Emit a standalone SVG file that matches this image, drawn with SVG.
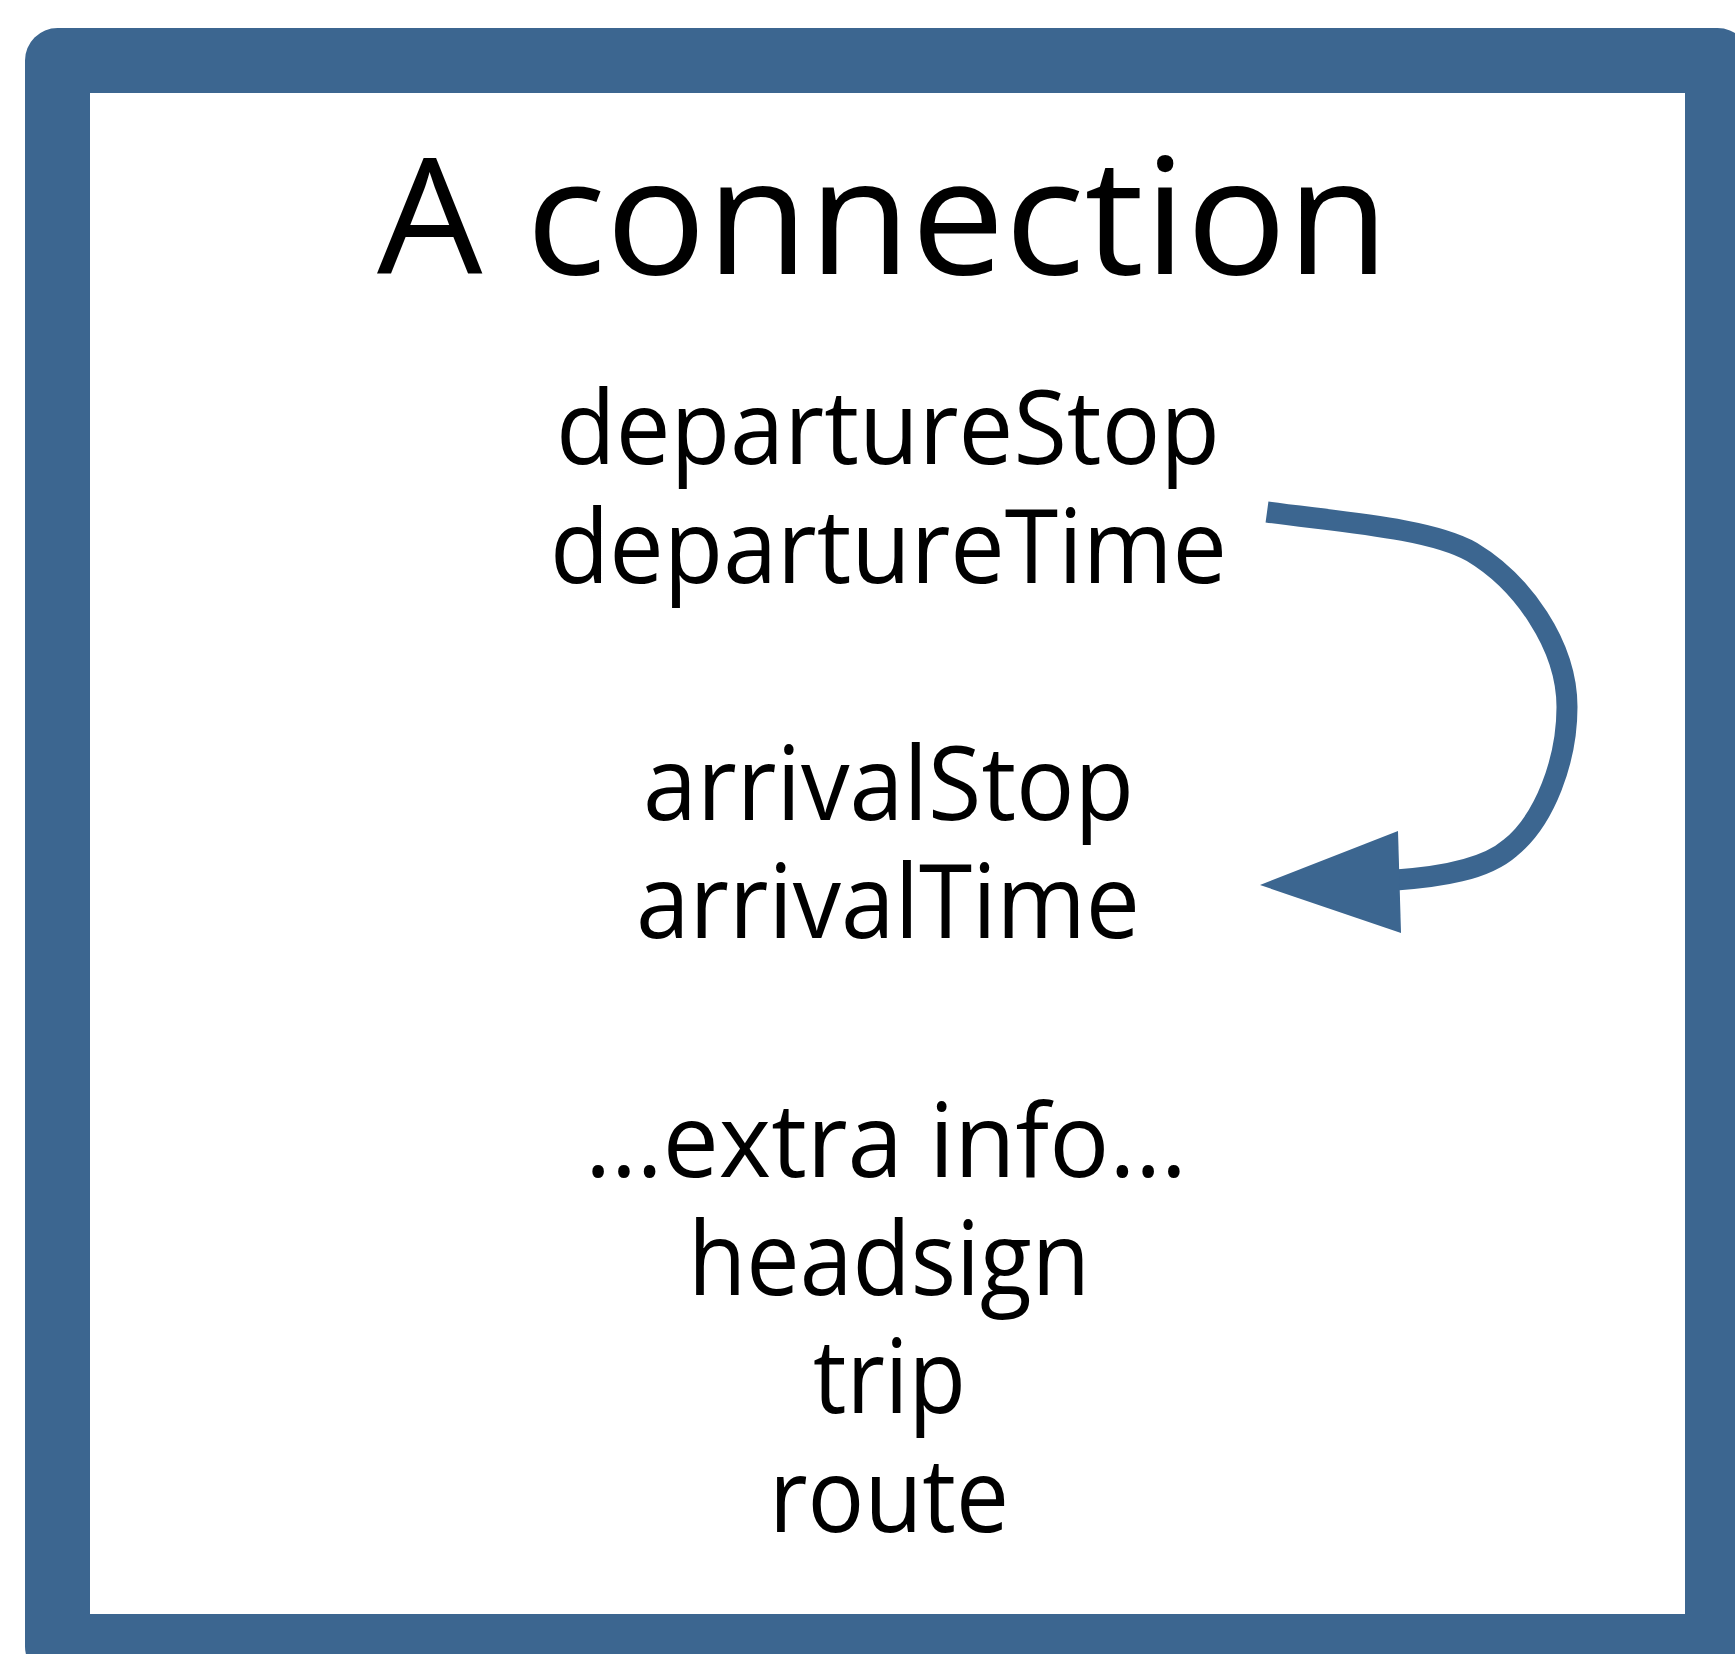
<svg xmlns="http://www.w3.org/2000/svg" width="1735" height="1654" viewBox="0 0 1735 1654">
<style>
.t{font-family:"Open Sans","Noto Sans","Liberation Sans",sans-serif;fill:#000;text-anchor:middle}
.b{font-size:102px}
.h{font-size:162px}
</style>
<rect width="1735" height="1654" fill="#fff"/>
<g id="frame">
<rect x="57.5" y="60.5" width="1660" height="1586" fill="#fff" stroke="#3c6690" stroke-width="65" stroke-linejoin="round"/>
</g>
<g id="title"><text class="t h" x="883" y="274" textLength="1012" lengthAdjust="spacingAndGlyphs">A connection</text></g>
<g id="departure">
<text class="t b" x="888" y="464" textLength="664" lengthAdjust="spacingAndGlyphs">departureStop</text>
<text class="t b" x="888.5" y="583" textLength="677" lengthAdjust="spacingAndGlyphs">departureTime</text>
</g>
<g id="arrival">
<text class="t b" x="888.5" y="820" textLength="491" lengthAdjust="spacingAndGlyphs">arrivalStop</text>
<text class="t b" x="888" y="938" textLength="504" lengthAdjust="spacingAndGlyphs">arrivalTime</text>
</g>
<g id="extra">
<text class="t b" x="886" y="1177" textLength="602" lengthAdjust="spacingAndGlyphs">…extra info…</text>
<text class="t b" x="889" y="1295" textLength="402" lengthAdjust="spacingAndGlyphs">headsign</text>
<text class="t b" x="889.5" y="1413" textLength="153" lengthAdjust="spacingAndGlyphs">trip</text>
<text class="t b" x="889" y="1532" textLength="240" lengthAdjust="spacingAndGlyphs">route</text>
</g>
<g id="connectors">
<path d="M1267,512 C1340,522 1430,528 1472,552 C1522,582 1567,645 1567,707 C1567,760 1545,820 1510,848 C1485,870 1440,877 1396,880" fill="none" stroke="#3c6690" stroke-width="21"/>
<polygon points="1260,885 1398,831 1401,933" fill="#3c6690"/>
</g>
</svg>
